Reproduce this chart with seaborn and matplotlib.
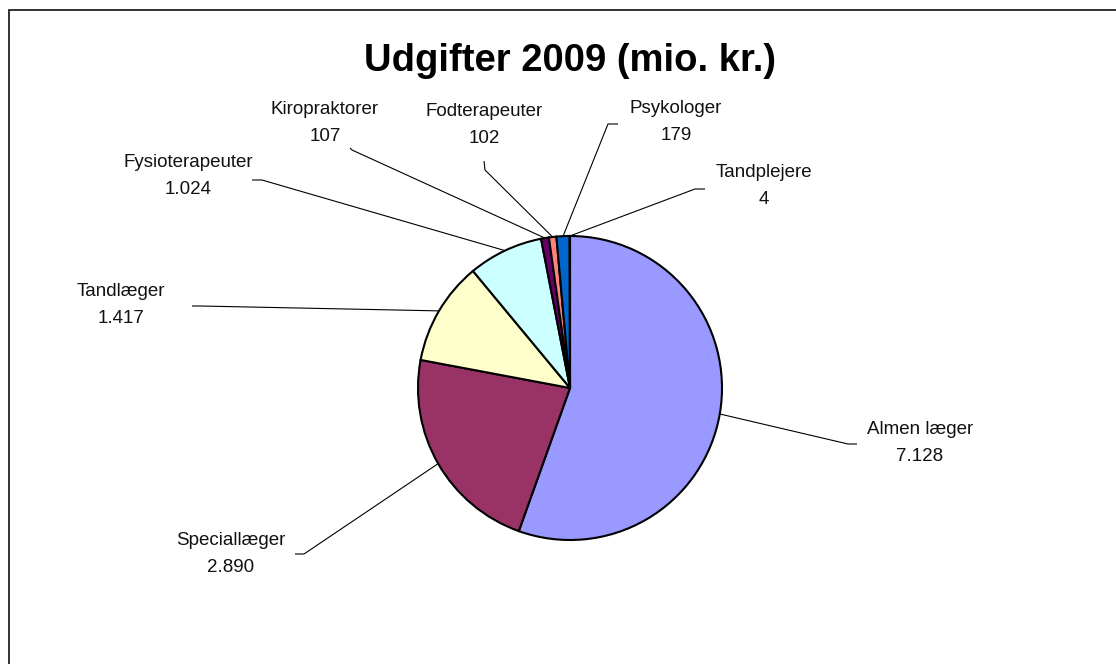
import matplotlib
matplotlib.use("Agg")
import matplotlib.pyplot as plt
import matplotlib.patches as mpatches
import numpy as np
import seaborn as sns

# Data
categories = ["Almen læger", "Speciallæger", "Tandlæger", "Fysioterapeuter",
              "Kiropraktorer", "Fodterapeuter", "Psykologer", "Tandplejere"]
values = [7128, 2890, 1417, 1024, 107, 102, 179, 4]
value_labels = ["7.128", "2.890", "1.417", "1.024", "107", "102", "179", "4"]
colors = ["#9999FF", "#993366", "#FFFFCC", "#CCFFFF",
          "#660066", "#FF8080", "#0066CC", "#CCCCFF"]

sns.set_theme(style="white")
plt.rcParams['font.family'] = ['Liberation Sans', 'DejaVu Sans']

W, H = 1116, 664
fig = plt.figure(figsize=(W / 100, H / 100), dpi=100)
ax = fig.add_axes([0, 0, 1, 1])
ax.set_xlim(0, W)
ax.set_ylim(0, H)
ax.set_aspect('equal')
ax.axis('off')

cx, cy, r = 570, H - 388, 152
wedges, _ = ax.pie(values, colors=colors, startangle=90, counterclock=False,
                   center=(cx, cy), radius=r,
                   wedgeprops=dict(edgecolor='black', linewidth=1.5))
ax.set_xlim(0, W)
ax.set_ylim(0, H)

# label layout in pixel coords: text centre, line start, elbow
layout = {
    "Almen læger":     ((920, 443), (857, 444), (848, 444)),
    "Speciallæger":    ((231, 554), (295, 554), (304, 554)),
    "Tandlæger":       ((121, 305), (192, 306), (200, 306)),
    "Fysioterapeuter": ((188, 176), (252, 180), (262, 180)),
    "Kiropraktorer":   ((325, 123), (350, 148), (352, 150)),
    "Fodterapeuter":   ((484, 125), (484, 161), (485, 170)),
    "Psykologer":      ((676, 122), (618, 124), (608, 124)),
    "Tandplejere":     ((764, 186), (705, 189), (695, 189)),
}

for w, name, vl in zip(wedges, categories, value_labels):
    mid = np.deg2rad((w.theta1 + w.theta2) / 2)
    px, py = cx + r * np.cos(mid), cy + r * np.sin(mid)
    (tx, ty), (x0, y0), (x1, y1) = layout[name]
    ax.text(tx, H - ty, f"{name}\n{vl}", ha='center', va='center',
            fontsize=13.5, linespacing=1.8, color='#111111')
    ax.plot([x0, x1, px], [H - y0, H - y1, py], color='black', lw=0.8,
            solid_capstyle='butt')

ax.text(570, H - 61, "Udgifter 2009 (mio. kr.)", ha='center', va='center',
        fontsize=27.5, fontweight='bold', color='black')

# chart area border
fig.patches.append(mpatches.Rectangle((9 / W, -0.05), 1.2, (H - 10) / H + 0.05,
                                      transform=fig.transFigure, fill=False,
                                      edgecolor='#222222', linewidth=1.3))

fig.savefig("out.png", dpi=100)
